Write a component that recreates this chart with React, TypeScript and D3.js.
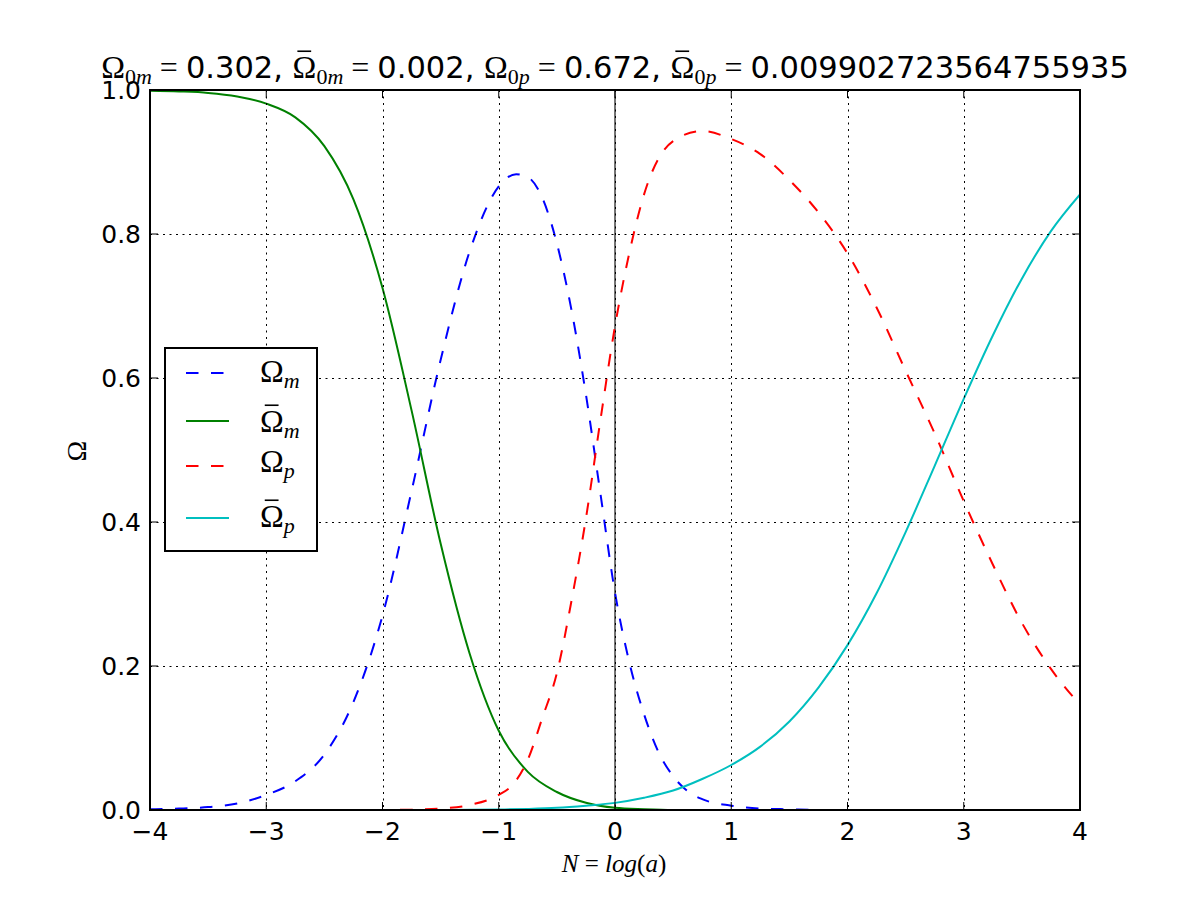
import React, { useLayoutEffect, useRef, useState } from "react";
import * as d3 from "d3";

// ---- data ----
const xTicks = [-4, -3, -2, -1, 0, 1, 2, 3, 4];
const yTicks = [0, 0.2, 0.4, 0.6, 0.8, 1.0];

// Omega_m (blue dashed)
const omegaMN = [-4, -3.75, -3.5, -3.25, -3, -2.75, -2.5, -2.25, -2, -1.75, -1.5, -1.25, -1, -0.85, -0.75, -0.625, -0.5, -0.375, -0.25, -0.125, 0, 0.125, 0.25, 0.375, 0.5, 0.625, 0.75, 1, 1.25, 1.5, 1.75, 2, 2.5, 3, 3.5, 4];
const omegaMV = [0.001, 0.002, 0.004, 0.009, 0.021, 0.04, 0.077, 0.15, 0.27, 0.443, 0.625, 0.776, 0.866, 0.883, 0.879, 0.85, 0.787, 0.695, 0.577, 0.439, 0.302, 0.204, 0.133, 0.08, 0.047, 0.026, 0.015, 0.006, 0.002, 0.001, 0, 0, 0, 0, 0, 0];

// Omega-bar_m (green solid)
const omegaBarMN = [-4, -3.75, -3.5, -3.25, -3, -2.75, -2.5, -2.25, -2, -1.75, -1.5, -1.25, -1, -0.75, -0.5, -0.25, 0, 0.25, 0.5, 1, 2, 3, 4];
const omegaBarMV = [0.999, 0.998, 0.996, 0.991, 0.981, 0.962, 0.922, 0.848, 0.725, 0.555, 0.37, 0.217, 0.11, 0.053, 0.025, 0.01, 0.003, 0.001, 0, 0, 0, 0, 0];

// Omega_p (red dashed)
const omegaPN = [-4, -3, -2, -1.75, -1.5, -1.25, -1, -0.875, -0.75, -0.625, -0.5, -0.375, -0.25, -0.125, 0, 0.125, 0.25, 0.5, 0.75, 1, 1.25, 1.5, 1.75, 2, 2.25, 2.5, 2.75, 3, 3.25, 3.5, 3.75, 4];
const omegaPV = [0, 0, 0, 0.0005, 0.002, 0.007, 0.021, 0.036, 0.07, 0.128, 0.19, 0.29, 0.405, 0.542, 0.672, 0.775, 0.855, 0.929, 0.943, 0.932, 0.911, 0.875, 0.83, 0.773, 0.698, 0.61, 0.523, 0.429, 0.341, 0.26, 0.196, 0.146];

// Omega-bar_p (cyan solid)
const omegaBarPN = [-4, -3, -2, -1.5, -1.25, -1, -0.75, -0.5, -0.25, 0, 0.25, 0.5, 0.75, 1, 1.25, 1.5, 1.75, 2, 2.25, 2.5, 2.75, 3, 3.25, 3.5, 3.75, 4];
const omegaBarPV = [0, 0, 0, 0, 0.0003, 0.0007, 0.0015, 0.003, 0.006, 0.0099, 0.017, 0.027, 0.043, 0.0625, 0.088, 0.123, 0.17, 0.229, 0.301, 0.386, 0.478, 0.571, 0.659, 0.738, 0.804, 0.855];

const titleValues = ["0.302", "0.002", "0.672", "0.009902723564755935"];

// ---- layout ----
const W = 1200, H = 900;
const L = 150, R = 1080, T = 90, B = 810;
const SERIF = "'Liberation Serif', 'DejaVu Serif', serif";
const SANS = "'DejaVu Sans', sans-serif";

const x = d3.scaleLinear().domain([-4, 4]).range([L, R]);
const y = d3.scaleLinear().domain([0, 1]).range([B, T]);

const line = d3.line<[number, number]>()
  .x(d => x(d[0]))
  .y(d => y(d[1]))
  .curve(d3.curveMonotoneX);

const series = [
  { key: "m", n: omegaMN, v: omegaMV, color: "#0000ff", dash: "12.5 12.5", bar: false, sub: "m" },
  { key: "bm", n: omegaBarMN, v: omegaBarMV, color: "#008000", dash: null, bar: true, sub: "m" },
  { key: "p", n: omegaPN, v: omegaPV, color: "#ff0000", dash: "12.5 12.5", bar: false, sub: "p" },
  { key: "bp", n: omegaBarPN, v: omegaBarPV, color: "#00bfbf", dash: null, bar: true, sub: "p" },
];

const fmtX = (d: number) => (d < 0 ? "\u2212" + Math.abs(d) : String(d));
const fmtY = d3.format(".1f");

function Omega({ bar, sub, size, base }: { bar: boolean; sub: string; size: number; base: number }) {
  const s = Math.round(size * 0.7);
  const shift = Math.round(size * 0.2);
  const parts: React.ReactNode[] = [];
  parts.push(
    <tspan key="o" fontFamily={SERIF} fontSize={size} className={bar ? "obar" : undefined} data-base={base} data-size={size}>
      {"\u03A9"}
    </tspan>
  );
  if (sub.startsWith("0")) {
    parts.push(<tspan key="z" fontFamily={SERIF} fontSize={s} dy={shift}>0</tspan>);
    parts.push(<tspan key="s" fontFamily={SERIF} fontStyle="italic" fontSize={s}>{sub.slice(1)}</tspan>);
  } else {
    parts.push(<tspan key="s" fontFamily={SERIF} fontStyle="italic" fontSize={s} dy={shift}>{sub}</tspan>);
  }
  return <>{parts}</>;
}

export default function App() {
  const svgRef = useRef<SVGSVGElement>(null);
  const [bars, setBars] = useState<{ x1: number; x2: number; y: number }[]>([]);

  useLayoutEffect(() => {
    const svg = svgRef.current;
    if (!svg) return;
    const out: { x1: number; x2: number; y: number }[] = [];
    svg.querySelectorAll("tspan.obar").forEach(el => {
      const t = el as SVGTSpanElement;
      const bb = t.getBBox();
      const base = Number(t.getAttribute("data-base"));
      const size = Number(t.getAttribute("data-size"));
      out.push({
        x1: bb.x + bb.width * 0.2,
        x2: bb.x + bb.width * 0.78,
        y: base - size * 0.68 - 5,
      });
    });
    setBars(out);
  }, []);

  const legendRows = [
    { s: series[0], y: 373, base: 382 },
    { s: series[1], y: 421, base: 432 },
    { s: series[2], y: 466, base: 472 },
    { s: series[3], y: 518, base: 527 },
  ];
  const titleItems = [
    { bar: false, sub: "0m" },
    { bar: true, sub: "0m" },
    { bar: false, sub: "0p" },
    { bar: true, sub: "0p" },
  ];
  const TS = 32;
  const titleBase = 78;
  return (
    <svg ref={svgRef} width={W} height={H} style={{ position: "absolute", left: 0, top: 0, background: "#fff" }}>
      <rect x={0} y={0} width={W} height={H} fill="#fff" />
      <defs>
        <clipPath id="plotclip">
          <rect x={L} y={T} width={R - L} height={B - T} />
        </clipPath>
      </defs>
      <rect x={L} y={T} width={R - L} height={B - T} fill="#fff" />

      {/* axvline at 0 */}
      <line x1={x(0)} x2={x(0)} y1={T} y2={B} stroke="#000" strokeOpacity={0.55} strokeWidth={2} />

      {/* curves */}
      <g clipPath="url(#plotclip)">
        {series.map(s => (
          <path
            key={s.key}
            d={line(s.n.map((n, i) => [n, s.v[i]] as [number, number])) || ""}
            fill="none"
            stroke={s.color}
            strokeWidth={2}
            strokeDasharray={s.dash || undefined}
          />
        ))}
      </g>

      {/* grid */}
      <g stroke="#000" strokeWidth={1} strokeDasharray="2 4.5">
        {xTicks.map(t => (
          <line key={"gx" + t} x1={Math.round(x(t)) + 0.5} x2={Math.round(x(t)) + 0.5} y1={T} y2={B} />
        ))}
        {yTicks.map(t => (
          <line key={"gy" + t} x1={L} x2={R} y1={Math.round(y(t)) + 0.5} y2={Math.round(y(t)) + 0.5} />
        ))}
      </g>

      {/* ticks (inward, all sides) */}
      <g stroke="#000" strokeWidth={1}>
        {xTicks.map(t => (
          <g key={"tx" + t}>
            <line x1={x(t)} x2={x(t)} y1={B} y2={B - 8} />
            <line x1={x(t)} x2={x(t)} y1={T} y2={T + 8} />
          </g>
        ))}
        {yTicks.map(t => (
          <g key={"ty" + t}>
            <line x1={L} x2={L + 8} y1={y(t)} y2={y(t)} />
            <line x1={R} x2={R - 8} y1={y(t)} y2={y(t)} />
          </g>
        ))}
      </g>

      {/* frame */}
      <rect x={L} y={T} width={R - L} height={B - T} fill="none" stroke="#000" strokeWidth={2} />

      {/* tick labels */}
      <g fontFamily={SANS} fontSize={25} fill="#000">
        {xTicks.map(t => (
          <text key={"lx" + t} x={x(t)} y={840} textAnchor="middle">{fmtX(t)}</text>
        ))}
        {yTicks.map(t => (
          <text key={"ly" + t} x={141} y={y(t) + 9} textAnchor="end">{fmtY(t)}</text>
        ))}
      </g>

      {/* axis labels */}
      <text x={614} y={872} textAnchor="middle" fontFamily={SERIF} fontSize={25}>
        <tspan fontStyle="italic">N</tspan>
        <tspan>{" = "}</tspan>
        <tspan fontStyle="italic">log</tspan>
        <tspan>(</tspan>
        <tspan fontStyle="italic">a</tspan>
        <tspan>)</tspan>
      </text>
      <text transform={`translate(86,451) rotate(-90)`} textAnchor="middle" fontFamily={SERIF} fontSize={28}>
        {"\u03A9"}
      </text>

      {/* title */}
      <text x={615} y={titleBase} textAnchor="middle" fontSize={30.5} fill="#000">
        {titleItems.map((it, i) => (
          <React.Fragment key={"t" + i}>
            <Omega bar={it.bar} sub={it.sub} size={TS} base={titleBase} />
            <tspan fontFamily={SERIF} fontSize={TS} dy={-Math.round(TS * 0.2)}>{" = "}</tspan>
            <tspan fontFamily={SANS}>{titleValues[i] + (i < 3 ? ", " : "")}</tspan>
          </React.Fragment>
        ))}
      </text>

      {/* legend */}
      <rect x={165} y={348} width={152} height={203} fill="#fff" stroke="#000" strokeWidth={2} />
      {legendRows.map(r => (
        <g key={"lg" + r.s.key}>
          <line x1={186} x2={229} y1={r.y} y2={r.y} stroke={r.s.color} strokeWidth={2}
            strokeDasharray={r.s.dash ? "12.5 12.5" : undefined} />
          <text x={260} y={r.base} fontSize={32} fill="#000">
            <Omega bar={r.s.bar} sub={r.s.sub} size={32} base={r.base} />
          </text>
        </g>
      ))}

      {/* overbars for Omega-bar symbols */}
      <g stroke="#000" strokeWidth={1.6}>
        {bars.map((b, i) => (
          <line key={"bar" + i} x1={b.x1} x2={b.x2} y1={b.y} y2={b.y} />
        ))}
      </g>
    </svg>
  );
}
